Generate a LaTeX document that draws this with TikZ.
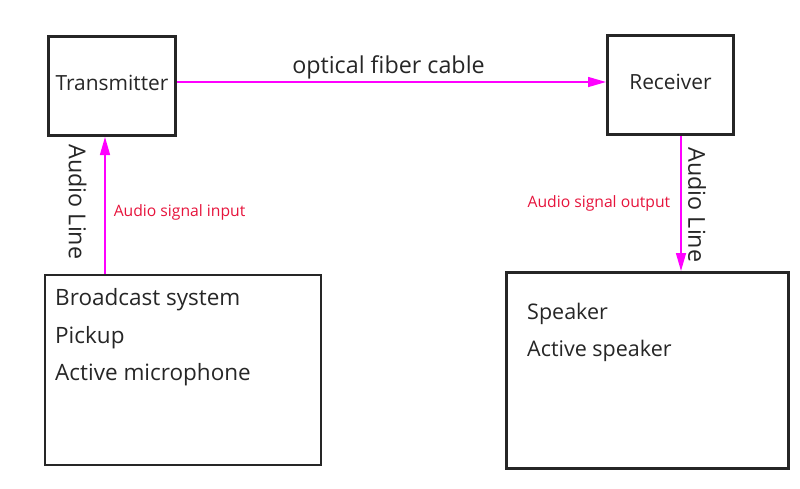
\documentclass[tikz,border=0pt]{standalone}
\usepackage{fontspec}
\setmainfont{Open Sans}
\usetikzlibrary{positioning,arrows.meta}
\definecolor{ink}{RGB}{38,38,38}
\definecolor{fiber}{RGB}{255,0,255}
\definecolor{signal}{RGB}{230,20,60}

\begin{document}
\begin{tikzpicture}[x=1pt, y=-1pt,
    unit/.style={rectangle, draw=ink, line width=3pt, minimum width=127pt, minimum height=99pt,
                 text height=15pt, text depth=7pt, text=ink, font=\fontsize{20.9}{24}\selectfont},
    device/.style={rectangle, draw=ink, line width=3pt, minimum width=282pt, minimum height=196pt},
    items/.style={align=left, inner sep=0pt, text=ink, font=\fontsize{22.5}{37.5}\selectfont},
    wire/.style={inner sep=0pt, text=ink, font=\fontsize{23.3}{26}\selectfont},
    note/.style={inner sep=0pt, text=signal, font=\fontsize{15.7}{18}\selectfont},
    arrow/.style={-{Triangle[length=18pt,width=10pt]}, draw=fiber, fill=fiber, line width=1.5pt}
  ]
  \useasboundingbox (0,0) rectangle (800,488);

  \node[unit] (tx) at (112,86) {Transmitter};
  \node[unit, minimum width=126pt] (rx) at (670.5,85) {Receiver};
  \node[device, line width=2pt, minimum width=276pt, minimum height=190pt] (source) at (183,370) {};
  \node[device] (sink) at (647.5,370.5) {};

  % base anchor of a multi-line node sits on its last line
  \node[items, anchor=base west] (sourcelist) at (55,380.7) {Broadcast system\\Pickup\\Active microphone};
  \node[items, font=\fontsize{21.5}{37.5}\selectfont, anchor=base west] (sinklist) at (527,356.7) {Speaker\\Active speaker};

  \draw[arrow] ([yshift=4pt]tx.east) -- node[wire, midway, anchor=base, xshift=-3pt, yshift=9pt] {optical fiber cable}
    ([yshift=4pt]tx.east -| rx.west);
  \draw[arrow] ([xshift=-7pt]tx.south |- source.north) --
    node[wire, midway, xshift=-27.5pt, yshift=3.5pt, rotate=-90] {Audio Line}
    node[note, pos=0.423, anchor=base west, xshift=8pt] {Audio signal input}
    ([xshift=-7pt]tx.south);
  \draw[arrow] ([xshift=10.5pt]rx.south) --
    node[wire, midway, xshift=16pt, yshift=-1.5pt, rotate=-90] {Audio Line}
    node[note, pos=0.533, anchor=base east, xshift=-10pt] {Audio signal output}
    ([xshift=10.5pt]rx.south |- sink.north);
\end{tikzpicture}
\end{document}
